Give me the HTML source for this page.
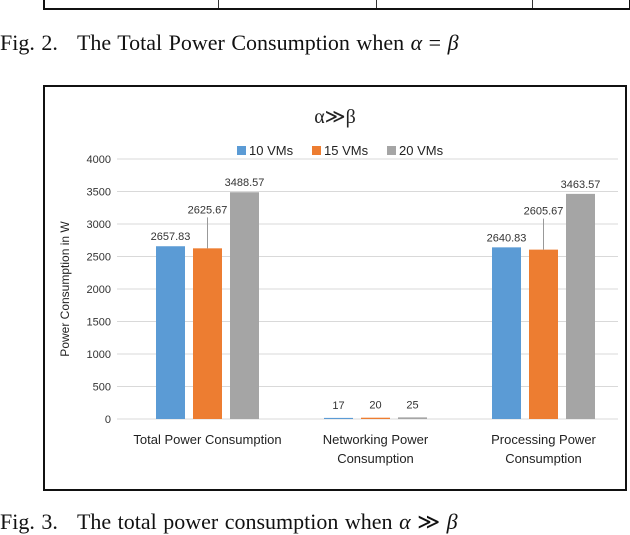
<!DOCTYPE html>
<html><head><meta charset="utf-8"><style>
body{margin:0;background:#fff;width:630px;height:524px;overflow:hidden;position:relative;font-family:"Liberation Sans",sans-serif}
.cap{position:absolute;font-family:"Liberation Serif",serif;font-size:22px;color:#111;white-space:nowrap;word-spacing:1px}
</style></head><body>
<div style="position:absolute;left:43px;top:-4px;width:584px;height:12px;border:2px solid #111;border-top:none"></div>
<div style="position:absolute;left:218px;top:0;width:1px;height:8px;background:#333"></div>
<div style="position:absolute;left:376px;top:0;width:1px;height:8px;background:#333"></div>
<div style="position:absolute;left:532px;top:0;width:1px;height:8px;background:#333"></div>
<div class="cap" style="left:0;top:30px">Fig. 2. &nbsp; The Total Power Consumption when <i>α</i> = <i>β</i></div>
<div style="position:absolute;left:43px;top:85px;width:580px;height:402px;border:2px solid #111"></div>
<svg id="c" width="630" height="524" style="position:absolute;left:0;top:0"></svg>
<div class="cap" style="left:0;top:509px">Fig. 3. &nbsp; The total power consumption when <i>α</i> ≫ <i>β</i></div>
<script>
const categories=[["Total Power Consumption"],["Networking Power","Consumption"],["Processing Power","Consumption"]];
const seriesNames=["10 VMs","15 VMs","20 VMs"];
const vm10=[2657.83,17,2640.83];
const vm15=[2625.67,20,2605.67];
const vm20=[3488.57,25,3463.57];
const labels10=["2657.83","17","2640.83"];
const labels15=["2625.67","20","2605.67"];
const labels20=["3488.57","25","3463.57"];
const yTicks=[0,500,1000,1500,2000,2500,3000,3500,4000];
const colors=["#5b9bd5","#ed7d31","#a5a5a5"];
const svg=document.getElementById('c');const NS="http://www.w3.org/2000/svg";
function el(t,a,txt){const e=document.createElementNS(NS,t);for(const k in a)e.setAttribute(k,a[k]);if(txt!==undefined)e.textContent=txt;svg.appendChild(e);return e;}
const y=v=>419-v*260/4000;
const cx=i=>207.5+i*168;
const x0=117,x1=618;
yTicks.forEach(t=>{
 const g=el('line',{x1:x0,x2:x1,y1:y(t),y2:y(t),stroke:'#d9d9d9','stroke-width':1});
 
 
 const l=el('text',{x:111,y:y(t)+4,'text-anchor':'end','font-size':11,fill:'#333'},t);
 
 
});
const at=el('text',{x:0,y:0,transform:'translate(69,289) rotate(-90)','text-anchor':'middle','font-size':12,fill:'#222'},'Power Consumption in W');


const tt=el('text',{x:335,y:123,'text-anchor':'middle','font-size':20,fill:'#222','font-family':'Liberation Serif, DejaVu Serif, serif'},'α≫β');


const legX=[237,312,387];
seriesNames.forEach((n,i)=>{
 const r=el('rect',{x:legX[i],y:146,width:9,height:9,fill:colors[i]});
 
 
 const t=el('text',{x:legX[i]+12,y:155,'font-size':13,fill:'#222'},n);
 
 
});
const series=[vm10,vm15,vm20],lbls=[labels10,labels15,labels20];
series.forEach((s,si)=>{
 s.forEach((v,ci)=>{
  const bx=cx(ci)-37+si*37-14.5;
  const b=el('rect',{x:bx,y:y(v),width:29,height:419-y(v),fill:colors[si]});
  
  
  let ly=y(v)-6;
  if(si===1&&v>100){ly=y(v)-35;const ln=el('line',{x1:bx+14.5,x2:bx+14.5,y1:y(v),y2:ly+4,stroke:'#999','stroke-width':1});}
  if(v<100)ly=y(v)-9;
  const t=el('text',{x:bx+14.5,y:ly,'text-anchor':'middle','font-size':11,fill:'#333'},lbls[si][ci]);
  
  
 });
});
categories.forEach((c,i)=>{
 c.forEach((line,j)=>{
  const t=el('text',{x:cx(i),y:444+j*19,'text-anchor':'middle','font-size':13,fill:'#222'},line);
  
  
 });
});
</script>
</body></html>
